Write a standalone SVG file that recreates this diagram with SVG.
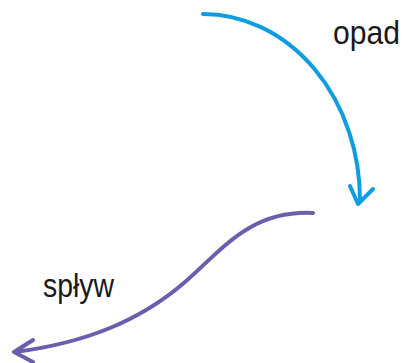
<svg xmlns="http://www.w3.org/2000/svg" width="405" height="363" viewBox="0 0 405 363">
<style>
.lbl{font-family:"Liberation Sans",Arial,sans-serif;font-size:33px;fill:#1a1a1a}
.c{fill:none;stroke-width:4;stroke-linecap:round;stroke-linejoin:round}
</style>
<rect width="405" height="363" fill="#ffffff"/>
<g id="connectors">
<g id="opad-arrow" stroke="#0d9de0" class="c">
<path class="c" d="M203,14 A157,186 0 0 1 360,201"/>
<path class="c" d="M350,186 L358,204 L373,189"/>
</g>
<g id="splyw-arrow" stroke="#6a5fae" class="c">
<path class="c" d="M313,213 C250,210 222,250 185,282 C140,321 85,343 15,352"/>
<path class="c" d="M33,340 L14,352 L33,362"/>
</g>
</g>
<g id="label-opad"><text class="lbl" x="333" y="44" textLength="67" lengthAdjust="spacingAndGlyphs">opad</text></g>
<g id="label-splyw"><text class="lbl" x="43" y="297" textLength="71" lengthAdjust="spacingAndGlyphs">spływ</text></g>
</svg>
